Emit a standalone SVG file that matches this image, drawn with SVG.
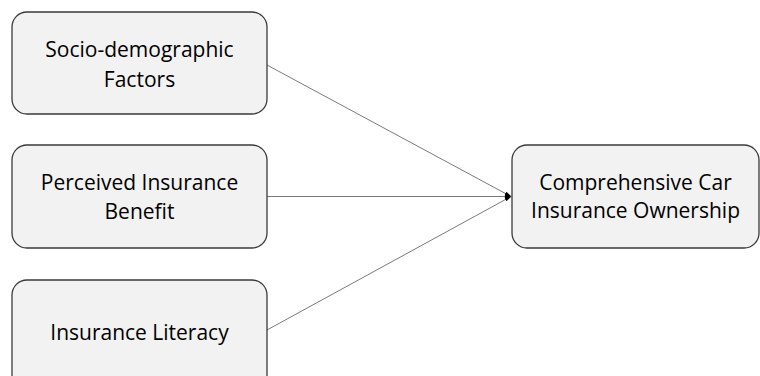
<svg xmlns="http://www.w3.org/2000/svg" width="760" height="376" viewBox="0 0 760 376">
<defs>
<style>
.box{fill:#f2f2f2;stroke:#3a3a3a;stroke-width:1.3}
.lbl{font-family:"Open Sans","Liberation Sans",sans-serif;font-size:21px;fill:#000;text-anchor:middle}
.edge{stroke:#7a7a7a;stroke-width:1;fill:none}
</style>
<marker id="arr" viewBox="0 0 10 10" refX="9" refY="5" markerWidth="7" markerHeight="7" orient="auto" markerUnits="userSpaceOnUse">
<path d="M0,2 L10,5 L0,8 Z" fill="#000"/>
</marker>
</defs>
<rect width="760" height="376" fill="#fff"/>
<g id="connectors">
<line class="edge" x1="267" y1="65" x2="511" y2="196.5" marker-end="url(#arr)"/>
<line class="edge" x1="267" y1="196.5" x2="511" y2="196.5" marker-end="url(#arr)"/>
<line class="edge" x1="267" y1="330" x2="511" y2="196.5" marker-end="url(#arr)"/>
</g>
<g id="socio">
<rect class="box" x="12" y="12" width="255" height="102" rx="15"/>
<text class="lbl" x="139.5" y="57">Socio-demographic</text>
<text class="lbl" x="139.5" y="87">Factors</text>
</g>
<g id="perceived">
<rect class="box" x="12" y="145" width="255" height="103" rx="15"/>
<text class="lbl" x="139.5" y="190">Perceived Insurance</text>
<text class="lbl" x="139.5" y="219">Benefit</text>
</g>
<g id="literacy">
<rect class="box" x="12" y="280" width="255" height="110" rx="15"/>
<text class="lbl" x="139.5" y="340">Insurance Literacy</text>
</g>
<g id="ownership">
<rect class="box" x="512" y="145" width="247" height="103" rx="15"/>
<text class="lbl" x="635.5" y="190">Comprehensive Car</text>
<text class="lbl" x="635.5" y="218">Insurance Ownership</text>
</g>
</svg>
